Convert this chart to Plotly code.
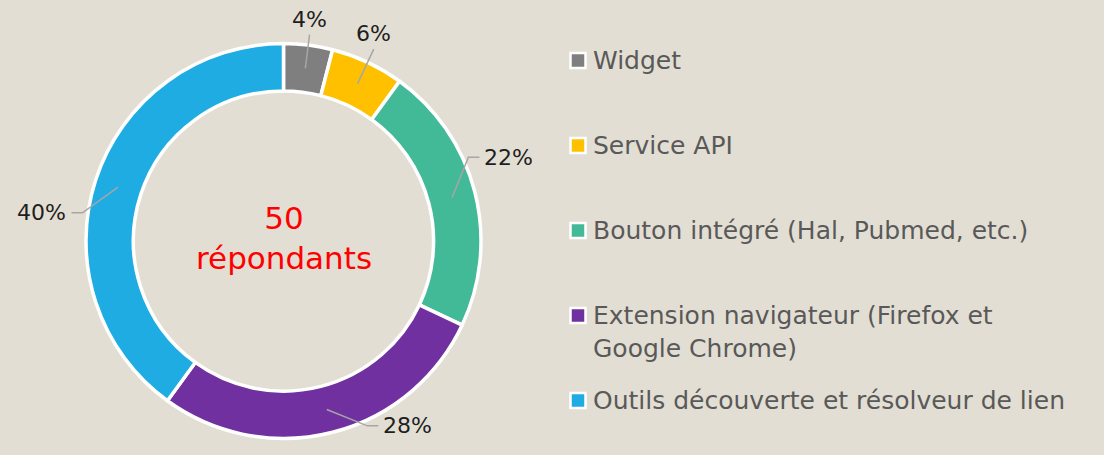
import math
import plotly.graph_objects as go

# ---------------- data ----------------
categories = [
    "Widget",
    "Service API",
    "Bouton intégré (Hal, Pubmed, etc.)",
    "Extension navigateur (Firefox et<br>Google Chrome)",
    "Outils découverte et résolveur de lien",
]
values = [4, 6, 22, 28, 40]
colors = ["#7F7F7F", "#FFC000", "#43BA97", "#7030A0", "#1EACE3"]
center_lines = ["50", "répondants"]

# ---------------- layout constants ----------------
W, H = 1104, 455
BG = "#E3DED3"
CX, CY, R = 283.5, 241.0, 197.5
FONT = "DejaVu Sans"

fig = go.Figure()

fig.add_trace(go.Pie(
    labels=[c.replace("<br>", " ") for c in categories],
    values=values,
    hole=0.76,
    sort=False,
    direction="clockwise",
    rotation=0,
    marker=dict(colors=colors, line=dict(color="white", width=3.5)),
    textinfo="none",
    hoverinfo="label+percent",
    showlegend=False,
    domain=dict(x=[(CX - R) / W, (CX + R) / W],
                y=[(H - CY - R) / H, (H - CY + R) / H]),
))


def pt(angle_deg, r):
    a = math.radians(angle_deg)
    return CX + r * math.sin(a), CY - r * math.cos(a)


total = sum(values)
annotations = []
shapes = []
cum = 0
for v in values:
    mid = (cum + v / 2) / total * 360
    cum += v
    x0, y0 = pt(mid, 174)
    s, c = math.sin(math.radians(mid)), math.cos(math.radians(mid))
    label = f"{round(v / total * 100)}%"
    if c > 0.85:
        x1, y1 = pt(mid, 208 if v < 5 else 212)
        path = f"M{x0},{y0} L{x1},{y1}"
        annotations.append(dict(x=x1, y=y1 - 1, xref="x", yref="y", text=label,
                                showarrow=False, xanchor="center", yanchor="bottom",
                                font=dict(family=FONT, size=22, color="#1E1E1E")))
    else:
        side = 1 if s > 0 else -1
        ea = mid - 10
        x1, y1 = pt(ea, 203)
        x2 = x1 + side * 11
        path = f"M{x0},{y0} L{x1},{y1} L{x2},{y1}"
        annotations.append(dict(x=x2 + side * 3, y=y1, xref="x", yref="y", text=label,
                                showarrow=False,
                                xanchor="left" if side > 0 else "right",
                                yanchor="middle",
                                font=dict(family=FONT, size=22, color="#1E1E1E")))
    shapes.append(dict(type="path", path=path, xref="x", yref="y",
                       line=dict(color="#A6A6A6", width=1.5), layer="above"))

# center text
annotations.append(dict(x=CX, y=CY - 3, xref="x", yref="y",
                        text="<br>".join(center_lines), showarrow=False,
                        xanchor="center", yanchor="middle",
                        font=dict(family=FONT, size=31, color="#FF0000")))

# manual legend
LX, LY0, LDY, LINE = 578, 60.5, 85, 33
for i, (cat, col) in enumerate(zip(categories, colors)):
    yc = LY0 + LDY * i
    shapes.append(dict(type="rect", xref="x", yref="y",
                       x0=LX - 7.5, x1=LX + 7.5, y0=yc - 7.5, y1=yc + 7.5,
                       fillcolor=col, line=dict(color="white", width=2.5),
                       layer="above"))
    for j, line in enumerate(cat.split("<br>")):
        annotations.append(dict(x=LX + 13, y=yc + LINE * j, xref="x", yref="y",
                                text=line, showarrow=False,
                                xanchor="left", yanchor="middle",
                                font=dict(family=FONT, size=25, color="#595959")))

fig.update_layout(
    width=W, height=H, autosize=False,
    margin=dict(l=0, r=0, t=0, b=0),
    paper_bgcolor=BG, plot_bgcolor=BG,
    xaxis=dict(range=[0, W], visible=False, fixedrange=True),
    yaxis=dict(range=[H, 0], visible=False, fixedrange=True),
    annotations=annotations,
    shapes=shapes,
    showlegend=False,
)

fig.write_html("out.html", config={"displayModeBar": False})

# remove default page margin so the figure fills the window
with open("out.html", encoding="utf-8") as f:
    html = f.read()
html = html.replace("<body>", f'<body style="margin:0;background:{BG};overflow:hidden">', 1)
with open("out.html", "w", encoding="utf-8") as f:
    f.write(html)
